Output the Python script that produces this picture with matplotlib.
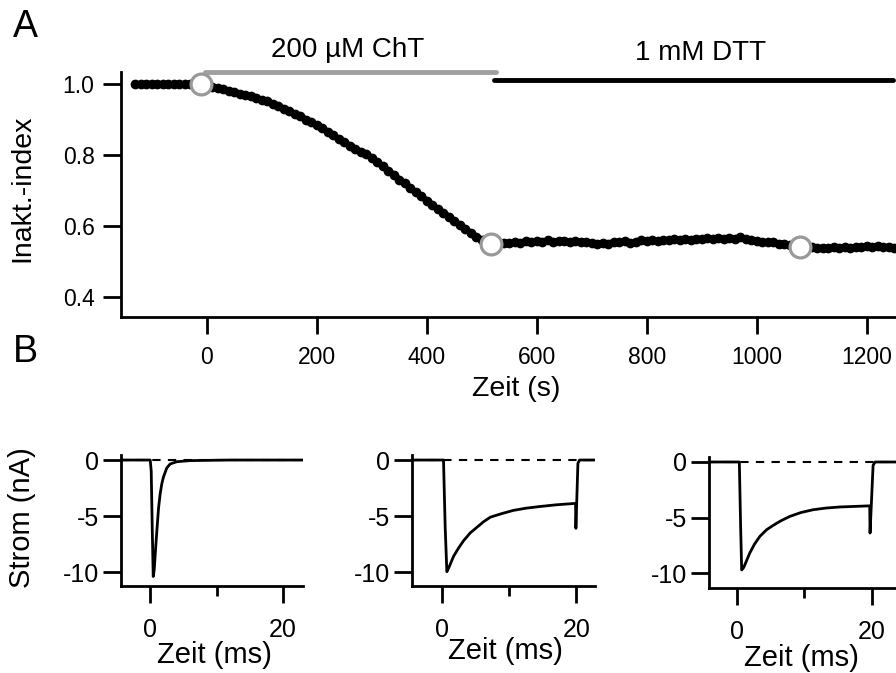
import numpy as np
import matplotlib
matplotlib.use("Agg")
import matplotlib.pyplot as plt

plt.rcParams['font.family'] = ['Liberation Sans', 'DejaVu Sans']
plt.rcParams['axes.unicode_minus'] = False

# panel A: inactivation index, sampled every 10 s starting at -130 s
t_start = -130
t_step = 10
inakt = [
    1.000, 0.999, 1.000, 1.001, 1.000, 0.999, 1.000, 1.000, 1.001, 0.999, 1.000, 1.000, 0.999,
    0.998, 0.992, 0.988, 0.985, 0.981, 0.978, 0.973, 0.970, 0.966, 0.960,
    0.955, 0.951, 0.945, 0.939, 0.931, 0.924, 0.917, 0.910, 0.900, 0.893,
    0.884, 0.876, 0.866, 0.856, 0.846, 0.836, 0.827, 0.818, 0.810, 0.804,
    0.792, 0.780, 0.768, 0.756, 0.745, 0.731, 0.720, 0.707, 0.695, 0.684,
    0.672, 0.660, 0.648, 0.637, 0.627, 0.614, 0.603, 0.592, 0.581, 0.570,
    0.560, 0.552, 0.548,
    0.550, 0.553, 0.552, 0.556, 0.553, 0.557, 0.554, 0.558, 0.556, 0.560,
    0.555, 0.558, 0.557, 0.555, 0.559, 0.556, 0.554, 0.552, 0.549, 0.553,
    0.551, 0.555, 0.554, 0.558, 0.553, 0.556, 0.560, 0.557, 0.561, 0.558,
    0.562, 0.560, 0.563, 0.561, 0.564, 0.562, 0.565, 0.563, 0.566, 0.564,
    0.566, 0.565, 0.567, 0.564, 0.568, 0.565, 0.560, 0.558, 0.556, 0.554,
    0.555, 0.551, 0.550, 0.546, 0.544, 0.543, 0.541, 0.540, 0.538, 0.539,
    0.537, 0.540, 0.538, 0.541, 0.539, 0.542, 0.540, 0.543, 0.541, 0.544,
    0.540, 0.542, 0.539,
]
zeit_s = t_start + t_step * np.arange(len(inakt))

# open circles where the example traces were taken
circ_t = [-10, 516, 1078]
circ_v = [1.0, 0.55, 0.54]

# application bars
cht_range = [-4, 525]
dtt_range = [522, 1247]

# panel B: current traces (ms, nA)
b1_t = [-4.4, 0.0, 0.15, 0.3, 0.45, 0.6, 0.8, 1.0, 1.25, 1.5, 1.75, 2.0, 2.5, 3.0, 4.0, 6.0, 12.0, 23.0]
b1_i = [0.0, 0.0, -1.0, -6.0, -10.4, -9.8, -8.0, -6.3, -4.3, -3.0, -2.1, -1.5, -0.7, -0.35, -0.15, -0.05, 0.0, 0.0]

b2_t = [-4.5, 0.2, 0.45, 0.7, 1.0, 1.7, 2.4, 3.2, 4.2, 5.2, 6.2, 7.2, 8.8, 10.6, 12.5, 14.6, 17.0, 19.9, 19.95, 20.25, 20.5, 23.0]
b2_i = [0.0, 0.0, -6.0, -9.97, -9.6, -8.6, -7.9, -7.2, -6.5, -6.0, -5.5, -5.1, -4.8, -4.5, -4.3, -4.15, -4.0, -3.87, -6.1, -0.3, 0.0, 0.0]

b3_t = [-4.2, 0.35, 0.55, 0.7, 1.0, 1.9, 2.6, 3.4, 4.4, 5.4, 6.5, 7.85, 9.5, 11.3, 13.2, 15.3, 17.5, 19.7, 19.75, 20.2, 20.5, 23.6]
b3_i = [0.0, 0.0, -6.0, -9.73, -9.5, -8.2, -7.4, -6.7, -6.1, -5.7, -5.3, -4.9, -4.55, -4.3, -4.15, -4.05, -4.0, -3.95, -6.4, -0.3, 0.0, 0.0]

W, H = 896, 673
fig = plt.figure(figsize=(W / 100, H / 100), dpi=100)


def rect(x0, y0, x1, y1):
    # pixel box -> figure fraction
    return [x0 / W, 1 - y1 / H, (x1 - x0) / W, (y1 - y0) / H]


def style(ax):
    for s in ['top', 'right']:
        ax.spines[s].set_visible(False)
    for s in ['left', 'bottom']:
        ax.spines[s].set_linewidth(2.0)
    ax.patch.set_alpha(0)


# ---- panel A ----
axA = fig.add_axes(rect(121, 72, 896, 317))
style(axA)
axA.plot(zeit_s, inakt, color='black', lw=4.5, marker='o', ms=6, zorder=3)
axA.plot(circ_t, circ_v, ls='none', marker='o', ms=15, mfc='white', mec='#999999', mew=2.3, zorder=4)
axA.plot(cht_range, [1.034, 1.034], color='#a0a0a0', lw=3.5, solid_capstyle='round', clip_on=False)
axA.plot(dtt_range, [1.012, 1.012], color='black', lw=3.5, solid_capstyle='round', clip_on=False)
axA.set_xlim(-156, 1253)
axA.set_ylim(0.344, 1.034)
axA.set_xticks([0, 200, 400, 600, 800, 1000, 1200])
axA.set_yticks([0.4, 0.6, 0.8, 1.0])
axA.set_yticklabels(['0.4', '0.6', '0.8', '1.0'])
axA.tick_params(axis='x', length=12, width=2.0, pad=9, labelsize=16.5)
axA.tick_params(axis='y', length=13, width=2.0, pad=6, labelsize=16.5)

fig.text(348 / W, 1 - 50 / H, '200 µM ChT', ha='center', va='center', fontsize=20)
fig.text(701 / W, 1 - 53 / H, '1 mM DTT', ha='center', va='center', fontsize=20)
fig.text(22 / W, 1 - 188 / H, 'Inakt.-index', ha='center', va='center', rotation=90, fontsize=20.5)
fig.text(516 / W, 1 - 389 / H, 'Zeit (s)', ha='center', va='center', fontsize=20.5)
fig.text(25 / W, 1 - 27 / H, 'A', ha='center', va='center', fontsize=27)
fig.text(25 / W, 1 - 352 / H, 'B', ha='center', va='center', fontsize=27)

# ---- panel B ----
b_boxes = [(121, 455, 303, 586), (412, 455, 595, 586), (709, 457, 896, 588)]
b_xlims = [(-4.4, 23.0), (-4.5, 22.8), (-4.15, 23.6)]
b_ylims = [(-11.25, 0.45), (-11.25, 0.45), (-11.35, 0.45)]
b_traces = [(b1_t, b1_i), (b2_t, b2_i), (b3_t, b3_i)]
b_xlab = [(214, 655), (505, 651), (801, 658)]

for box, xl, yl, (tt, ii), (lx, ly) in zip(b_boxes, b_xlims, b_ylims, b_traces, b_xlab):
    ax = fig.add_axes(rect(*box))
    style(ax)
    ax.plot([xl[0], xl[1]], [0, 0], color='black', lw=1.5, ls=(0, (4, 3.5)), zorder=2)
    ax.plot(tt, ii, color='black', lw=2.0, zorder=3)
    ax.set_xlim(*xl)
    ax.set_ylim(*yl)
    ax.set_xticks([0, 20])
    ax.set_xticks([10], minor=True)
    ax.set_yticks([-10, -5, 0])
    ax.tick_params(axis='x', which='major', length=12, width=2.0, pad=11, labelsize=18)
    ax.tick_params(axis='x', which='minor', length=7, width=2.0)
    ax.tick_params(axis='y', length=13, width=2.0, pad=3, labelsize=18)
    fig.text(lx / W, 1 - ly / H, 'Zeit (ms)', ha='center', va='center', fontsize=21)

fig.text(22 / W, 1 - 518 / H, 'Strom (nA)', ha='center', va='center', rotation=90, fontsize=21)

fig.savefig('out.png', dpi=100)
